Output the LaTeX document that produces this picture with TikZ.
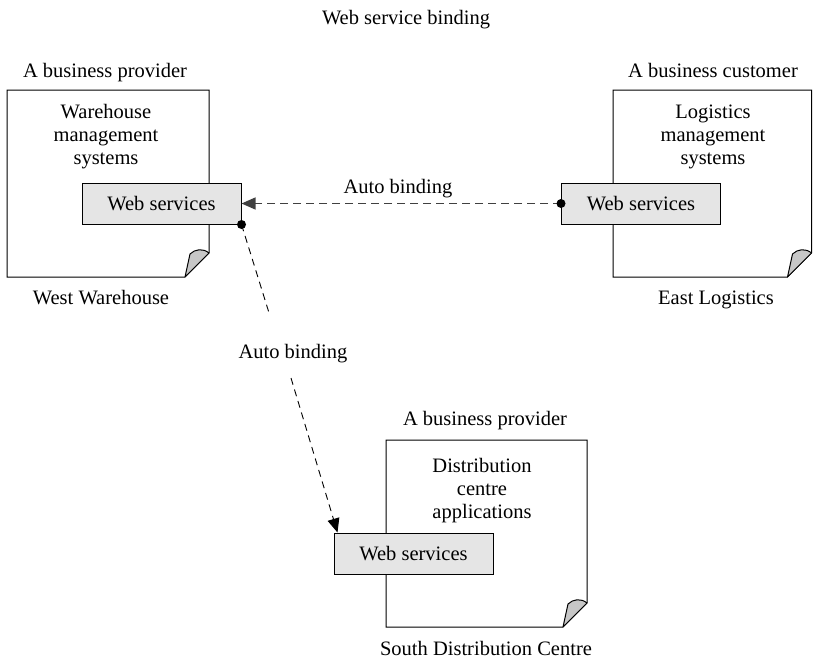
\documentclass[tikz,border=0pt]{standalone}
\usepackage{fontspec}
\setmainfont{Liberation Serif}
\usetikzlibrary{arrows.meta}
\begin{document}
\begin{tikzpicture}[x=1pt,y=-1pt,
  lbl/.style={font=\fontsize{20.5}{23}\selectfont, inner sep=0pt, anchor=base},
  inner/.style={font=\fontsize{20.5}{23}\selectfont, inner sep=0pt, align=center},
  wsbox/.style={draw=black, line width=1pt, fill=black!10, minimum width=159pt, minimum height=41pt, inner sep=0pt, font=\fontsize{20.5}{23}\selectfont},
  docline/.style={draw=black, line width=1pt, fill=white},
  foldfill/.style={draw=black, line width=1pt, fill=black!22, line join=round},
  hconn/.style={draw=black!75, line width=1.3pt, dash pattern=on 8pt off 5pt},
  dconn/.style={draw=black, line width=0.9pt, dash pattern=on 7pt off 5pt},
  tip/.style={-{Triangle[length=14pt,width=12pt]}}
]
\useasboundingbox (0,0) rectangle (813,664);

% document shapes
\newcommand{\docshape}[4]{%
  \path[docline] (#1,#2) -- (#3,#2) -- (#3,#4-24) -- (#3-24,#4) -- (#1,#4) -- cycle;
  \path[foldfill] (#3,#4-24) .. controls (#3-6,#4-29) and (#3-14,#4-28) .. (#3-19,#4-23) -- (#3-24,#4) -- cycle;}
\docshape{7}{90}{209}{277}
\docshape{613}{90}{811.5}{277}
\docshape{386}{440}{587}{627}

% titles and captions
\node[lbl] (title) at (406,24) {Web service binding};
\node[lbl] (prov1) at (105,77) {A business provider};
\node[lbl] (cust) at (713,77) {A business customer};
\node[lbl] (west) at (101,304) {West Warehouse};
\node[lbl] (east) at (716,304) {East Logistics};
\node[lbl] (prov2) at (485,425) {A business provider};
\node[lbl] (south) at (486,655) {South Distribution Centre};

% inner texts
\node[inner] (wms) at (106,137) {Warehouse\\management\\systems};
\node[inner] (lms) at (713,137) {Logistics\\management\\systems};
\node[inner] (dca) at (482,491) {Distribution\\centre\\applications};

% web service boxes
\node[wsbox] (ws1) at (161.5,203.5) {Web services};
\node[wsbox] (ws2) at (641,203.5) {Web services};
\node[wsbox] (ws3) at (413.5,553.5) {Web services};

% horizontal binding
\draw[hconn, tip] (ws2.west) -- (ws1.east);
\fill (ws2.west) circle (4.5pt);
\node[lbl] (ab1) at (398,193) {Auto binding};

% diagonal binding
\coordinate (d1) at (270,316);
\coordinate (d2) at (291,378);
\coordinate (d3) at ([xshift=4pt]ws3.north west);
\draw[dconn] (ws1.south east) -- (d1);
\draw[dconn, tip] (d2) -- (d3);
\fill (ws1.south east) circle (4.5pt);
\node[lbl] (ab2) at (293,358) {Auto binding};
\end{tikzpicture}
\end{document}
